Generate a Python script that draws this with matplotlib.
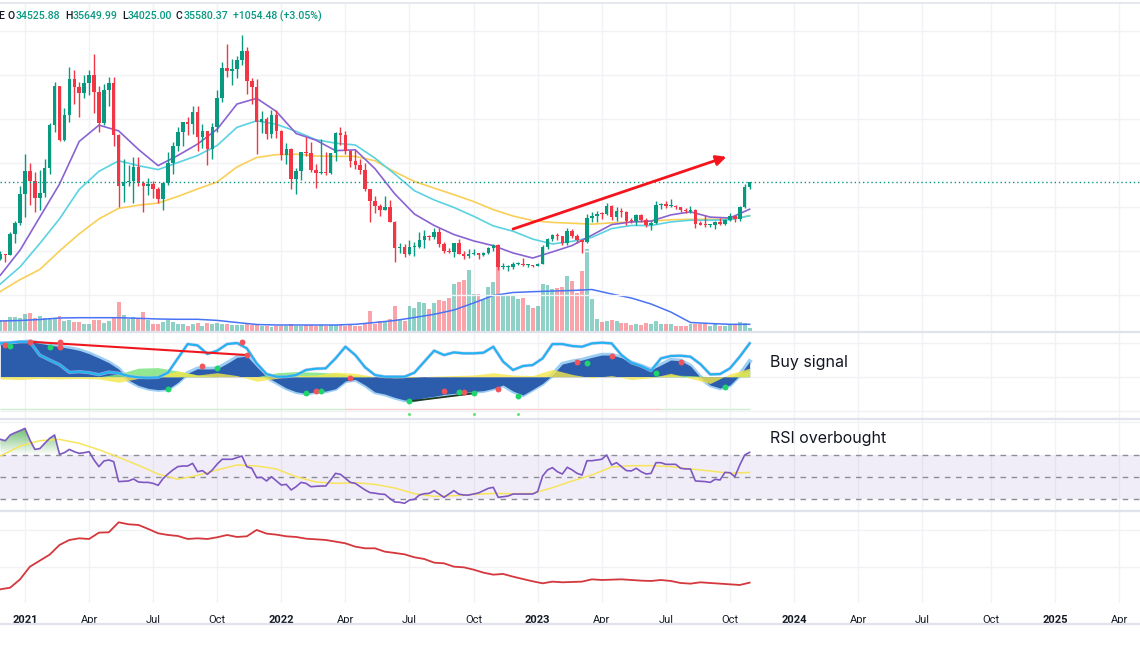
import matplotlib
matplotlib.use('Agg')
import matplotlib.pyplot as plt
import matplotlib.dates as mdates
import matplotlib.path as mpath
from matplotlib.colors import LinearSegmentedColormap
import numpy as np
import pandas as pd

plt.rcParams['font.family'] = ['Inter', 'DejaVu Sans']

W, H = 1140, 653
TEAL = '#089981'
RED = '#F23645'
GRID = '#F0F2F6'
SEP = '#E0E3EB'
TEXT = '#131722'

# ---- weekly BTC/USD candles (Mon open) ----
weeks = pd.date_range('2020-11-30', '2023-10-30', freq='W-MON')
first_open = 18180
closes = [19360, 19170, 23860, 26270, 33000, 38200, 35800, 32100, 33100, 38800,
          48600, 57400, 45200, 50900, 59000, 57350, 55800, 58100, 60000, 56200,
          49100, 56600, 58100, 46400, 34700, 35700, 35800, 39100, 35500, 34700,
          35300, 34200, 31800, 35400, 39900, 43800, 47100, 49300, 48900, 51700,
          46000, 47200, 43200, 48200, 54700, 61500, 60900, 61300, 63300, 65500,
          58600, 57300, 49400, 50100, 46700, 50800, 47300, 41900, 43100, 36300,
          38200, 42400, 42200, 38400, 37700, 38000, 37800, 42200, 46800, 46400,
          42800, 40400, 39500, 38500, 34000, 31300, 30300, 29400, 29900, 26600,
          20600, 21000, 19300, 20800, 20800, 22600, 23300, 23200, 24300, 21500,
          20000, 19800, 21800, 19400, 18800, 19300, 19400, 19200, 19600, 20600,
          21300, 16300, 16300, 16400, 17100, 17100, 16800, 16800, 16600, 17100,
          20900, 22700, 23700, 23300, 21800, 24600, 23500, 22400, 22100, 27600,
          28000, 28450, 28300, 30300, 27800, 29200, 28900, 26900, 26800, 28100,
          27100, 25900, 26300, 30500, 30600, 30200, 30300, 29900, 29300, 29000,
          29400, 26100, 26000, 25800, 25800, 26500, 26200, 27000, 27900, 27200,
          30000, 34525.88, 35580.37]
highs = [19920, 19420, 24300, 26900, 34800, 41950, 40100, 37850, 38500, 40950,
         49000, 58350, 57500, 52600, 61800, 61200, 58400, 60100, 61200, 64850,
         57500, 58000, 59500, 59600, 46600, 40800, 39500, 41300, 41300, 36000,
         36600, 35900, 34600, 35500, 42600, 44800, 48100, 49400, 50500, 52900,
         52900, 48800, 47300, 49200, 56600, 62900, 67000, 63700, 64300, 69000,
         66400, 59300, 59100, 51900, 50500, 52100, 52100, 47600, 44500, 43500,
         38900, 42600, 45900, 44800, 39800, 45400, 42600, 42300, 47000, 48200,
         47200, 42900, 42900, 40800, 40000, 34200, 32500, 30700, 32400, 31700,
         26800, 21900, 21500, 22500, 22000, 24300, 24700, 23600, 25200, 25200,
         22000, 20600, 21900, 22800, 19900, 20400, 20500, 19600, 19700, 21000,
         21500, 21500, 17200, 16800, 17400, 17400, 18400, 17000, 16900, 17200,
         21300, 23000, 23800, 24200, 23400, 25200, 25100, 23900, 22600, 28500,
         28900, 29200, 28800, 31000, 30500, 30000, 29800, 29000, 27600, 28300,
         28400, 27400, 26800, 31400, 31000, 31400, 31800, 30400, 30000, 29700,
         30200, 29600, 26800, 28100, 26100, 26900, 27500, 27300, 28600, 28000,
         30300, 35200, 35649.99]
lows = [18000, 17600, 19000, 21900, 25900, 27700, 30400, 28900, 29300, 32300,
        37400, 47000, 44900, 45000, 49300, 53300, 50400, 54700, 55400, 51300,
        47100, 48700, 53000, 43900, 30000, 31200, 34800, 31000, 34800, 28800,
        32700, 32100, 31000, 29300, 35000, 37500, 42800, 43900, 46300, 46600,
        42800, 43400, 39600, 40800, 47000, 53900, 59600, 57800, 59400, 62300,
        55600, 53500, 42000, 46800, 45500, 45600, 45700, 40600, 39700, 34000,
        32900, 36200, 41700, 38000, 34300, 37500, 37200, 37600, 40500, 44100,
        42100, 39200, 38600, 37600, 33700, 26700, 28700, 28000, 29300, 26500,
        17600, 19600, 18600, 19000, 18900, 20700, 20700, 22400, 22700, 20800,
        19600, 19600, 18600, 19300, 18200, 18500, 19200, 18200, 18900, 19300,
        20000, 15600, 15800, 15500, 16000, 16800, 16500, 16300, 16300, 16500,
        17100, 20400, 22300, 22500, 21400, 21400, 22900, 21900, 19600, 21900,
        26600, 26500, 27200, 28200, 27100, 26900, 27700, 25800, 26400, 25900,
        26600, 25400, 24800, 26200, 29500, 29700, 29900, 29600, 28900, 28600,
        28700, 25200, 25800, 25400, 25400, 24900, 26000, 26000, 26900, 26600,
        26900, 29700, 34025.00]
volume_k = [11, 10.7, 14.3, 14.3, 13.3, 17.3, 18.3, 12.7, 15, 12.7,
            13.3, 11.7, 15, 10, 10.7, 9.3, 9, 7.3, 7.3, 11,
            11, 7.7, 10, 14.3, 29.3, 16, 11.7, 14, 11.7, 19,
            10.7, 7.3, 6.7, 9.3, 10.7, 9, 7.3, 7.3, 5, 6.7,
            8, 5, 8, 6.7, 8.3, 7.3, 6.7, 5.7, 5.7, 5.7,
            6.7, 5.7, 5.7, 5, 5, 4, 5, 4.7, 5, 6.7,
            5, 5, 5.7, 5.7, 5, 5.7, 5, 5.7, 5.7, 6,
            5, 6.7, 5, 5, 7.3, 20, 7.3, 10, 10, 11.7,
            25, 12.3, 10, 25, 23.3, 29.3, 28.3, 21.7, 28.3, 31,
            30, 33.3, 47.3, 49, 51, 60.7, 37.3, 36.7, 31.7, 44.3,
            49, 85, 36, 35, 35.7, 31.7, 33.3, 25.7, 23.3, 25,
            47.3, 46, 42.3, 43.3, 44, 55, 50, 38.3, 60, 81.7,
            31.7, 12.3, 9, 10, 10.7, 10, 8.3, 8.3, 5.7, 6.7,
            5.7, 8.3, 6.7, 9.7, 6.7, 6.7, 6.7, 5, 5, 5,
            6.7, 6.7, 6.7, 6.7, 5, 6.7, 5, 5, 6.7, 6.7,
            9, 8.3, 3.3]

# moving averages, read every 4th week (thousands USD)
ma_purple_k = [14.5, 20.2, 27.7, 35.2, 44.9, 48.6, 47.3, 43.1, 39.4, 41.7, 44.3, 47.7, 53.4,
               54.7, 51.7, 46.7, 45.2, 42.8, 43.0, 38.7, 33.0, 28.4, 25.8, 23.75, 22.3, 21.2,
               19.55, 18.4, 19.8, 21.25, 23.6, 26.0, 26.6, 26.8, 28.2, 28.9, 27.7, 27.5, 29.5]
ma_cyan_k = [12.5, 16.4, 21.7, 27.3, 34.0, 38.1, 40.5, 39.4, 38.5, 40.1, 41.7, 44.0, 48.1,
             49.6, 48.8, 47.2, 45.3, 44.5, 44.1, 41.1, 37.5, 33.7, 31.6, 29.9, 27.9, 25.7,
             24.5, 22.7, 21.6, 22.2, 23.1, 25.1, 25.8, 25.8, 26.6, 27.0, 27.0, 27.1, 28.0]
ma_yellow_k = [10.8, 13.5, 15.8, 20.0, 23.9, 27.3, 29.7, 30.4, 30.9, 32.4, 34.1, 35.7, 39.1,
               41.25, 41.9, 42.0, 41.6, 41.5, 41.5, 40.5, 38.0, 35.8, 34.3, 32.8, 31.25, 29.4,
               27.95, 26.9, 26.5, 26.3, 26.1, 26.4, 26.6, 26.8, 27.1, 27.2, 27.2, 27.3, 28.0]
vol_ma_k = [10, 10.5, 11.5, 13, 13.3, 13.3, 13.3, 12.7, 12, 11.7, 11.7, 10.6, 8.5,
            6.5, 6, 6, 6, 6, 6.7, 8.5, 10.5, 13.5, 16.7, 21, 28, 35.5,
            38.5, 39.3, 40, 40.5, 41.5, 37, 33, 27, 19, 8.5, 7.5, 6.7, 6.7]

# wave oscillator, read every 2nd week
wave = [58.8, 58.8, 60.6, 61.7, 58.8, 55.9, 52.9, 50, 46.5, 40.6, 32.9, 24.7, 13.5,
        -5.9, -15.3, -20.6, -22.9, -21.8, -10, 5.9, 14.1, 13.5, 14.1, 23.5, 34.1, 36.5,
        17.6, 0, -10, -20, -26.5, -29.4, -26.5, -25.3, -21.2, -7.6, -4.7, -14.7, -27,
        -30.6, -36.5, -41.2, -41.2, -37, -34.7, -31.2, -29.4, -28.2, -25.9, -24.7, -20.6,
        -14.7, -25.3, -32.3, -22.3, -11.8, 2.9, 22.3, 26.5, 29.4, 34.1, 38.2, 38.2,
        33.5, 24.7, 18.8, 11.8, 20.6, 29.4, 28.2, 18.8, -1.2, -14.7, -20, -14.7, 2.9, 27]
wave_fast = [58.8, 60, 61.7, 61.7, 38, 29.4, 21.2, 7.6, 8.8, 7.1, 3.5, 8.2, 5.9,
             1.2, -1.2, -1.8, -1.2, 7.1, 32.3, 57.6, 55.3, 40, 45.9, 57.6, 59.4, 50,
             23.5, 4.7, 0, 0, 2.9, 11.8, 14.1, 14.7, 32.3, 52.9, 38.2, 16.5, 2.9,
             0, 0, 0, 7.1, 26.5, 45.9, 38.2, 42.9, 41.2, 41.2, 42.3, 52.9,
             26.5, 11.8, 18.8, 20.6, 32.3, 57.6, 57.6, 54.1, 52.9, 58.8, 60, 58.8,
             38.2, 24.7, 18.8, 10.6, 32.3, 36.5, 37, 35.3, 22.3, 4.1, 4.7, 14.7, 35.3, 58.8]
# money flow bands, every 4th week
flow_yellow = [-4, -5, -3, -4, -3, -4, -10, -3, 2, 10, 3, 7, 2, -8, -3, 2, 3, 8, 6, 0,
               -2, -1, 1, 2, 3, 7, 3, 2, 13, 4, -2, 2, -5, -2, 6, -3, -12, 5, 15]
flow_green = [0, 0, 0, 0, 0, 0, 5, 15, 16, 10, 3, 0, 0, 0, 7, 9, 8, 6, 2, 0,
              0, 0, 0, 0, 0, 0, 0, 0, 0, 0, 0, 0, 0, 0, 3, 2, 0, 0, 12]
sell_dot_week = [1, 6, 12, 12, 41, 49, 50, 64, 71, 90, 94, 101, 117, 124, 138]
sell_dot_val = [55.9, 61.7, 60.6, 52.9, 18.8, 61.7, 38.2, -25.3, -2.9, -25.3, -27.6, -21.8, 25.3, 37, 26.5]
buy_dot_week = [2, 10, 34, 44, 62, 65, 83, 93, 96, 105, 119, 133, 147]
buy_dot_val = [54.1, 51.7, -22.3, 14.7, -28.2, -25.3, -43.5, -27.6, -29.4, -34.1, 23.5, 7.1, -18.8]
signal_week = [83, 96, 105]
signal_val = -66
bear_div = ([6, 50], [61.7, 38.2])
bull_div = ([83, 96], [-43.5, -29.4])

# RSI weekly, and its moving average every 4th week
rsi = [83.9, 82.7, 87.9, 90, 91.8, 93.9, 83.3, 74.8, 75.5, 80.3,
       84.8, 87.9, 70.3, 71.8, 74.8, 72.7, 71.2, 71.8, 72.7, 65.2,
       59.1, 64.2, 65.2, 63.6, 45.5, 45.8, 46.1, 47.9, 45.2, 44.8,
       44.8, 43.9, 42.1, 48.2, 52.4, 56.1, 59.1, 59.7, 59.7, 62.1,
       54.5, 55.5, 52.1, 56.1, 61.5, 65.8, 65.8, 65.8, 67.3, 68.8,
       59.1, 57.6, 49.1, 49.4, 46.1, 50, 46.1, 42.4, 43, 37.9,
       40.9, 44.8, 43.9, 40.9, 41.2, 41.5, 41.5, 47, 53, 52.1,
       48.5, 44.8, 43.9, 40.9, 37.9, 35.5, 35, 34.2, 33.9, 30.3,
       27, 26.7, 25.8, 28.8, 29.4, 33.3, 34.5, 34.8, 37.3, 34.2,
       31.2, 34.2, 37.3, 34.2, 33.3, 33.3, 34.2, 35.2, 37.3, 39.4,
       40.3, 31.2, 31.8, 32.4, 34.2, 34.2, 34.2, 34.2, 34.2, 36.4,
       50.6, 56.1, 58.2, 54.5, 52.4, 58.5, 56.1, 53, 51.5, 64.5,
       64.5, 65.2, 65.8, 69.7, 60.6, 62.7, 59.1, 55.5, 55.2, 57.6,
       54.5, 52.4, 53, 62.7, 62.7, 61.2, 61.2, 61.2, 57.6, 57,
       57, 46.1, 45.8, 45.5, 44.8, 47.6, 47, 53.9, 53.6, 50,
       60.6, 69.7, 72.1]
rsi_ma = [68.8, 77.9, 82.7, 83.9, 80.3, 74.5, 67.6, 60.3, 52.4, 47.6, 51.2, 56.1, 60.6,
          59.7, 57, 50, 45.2, 43.9, 44.5, 43, 39.7, 34.5, 32.1, 32.7, 33.9, 34.8,
          34.5, 34.8, 40, 46.1, 51.5, 58.8, 60, 60, 59.1, 57, 55.2, 53, 53.9]

# bottom indicator, every 2nd week
lower_line = [38.4, 42.9, 65.6, 100.1, 116.5, 132.8, 159.2, 172.8, 177.3, 175.5,
              192.8, 193.7, 221, 215.5, 213.7, 202.8, 191, 186.4, 183.7, 175.5,
              177.3, 175.5, 180.1, 186.4, 181, 182.8, 200.1, 190.1, 187.3, 182.8,
              181, 176.4, 174.6, 172.8, 168.3, 163.7, 154.6, 150.1, 150.1, 141,
              137.4, 133.7, 125.6, 121, 111, 109.2, 100.1, 98.3, 92, 83.8,
              78.3, 80.2, 72.9, 66.5, 60.2, 54.7, 59.3, 57.5, 58.4, 59.3,
              65.6, 63.8, 64.7, 65.6, 63.8, 62, 61.1, 63.8, 61.1, 55.6,
              53.8, 57.5, 55.6, 53.8, 52, 50.2, 56.5]

# trend arrow drawn on the price pane
arrow_from = ('2022-11-28', 25000)
arrow_to = ('2023-09-27', 41400)

# ------------------------------------------------------------------
xs = mdates.date2num(weeks)
x_left = mdates.date2num(pd.Timestamp('2021-01-04')) - 35.5
x_right = x_left + W / 0.70421

quarters = pd.date_range('2021-01-01', '2025-04-01', freq='QS')
tick_dates = [q + pd.Timedelta(days=(7 - q.weekday()) % 7) for q in quarters]
tick_x = mdates.date2num(pd.DatetimeIndex(tick_dates))
tick_labels = [str(q.year) if q.month == 1 else q.strftime('%b') for q in quarters]

fig = plt.figure(figsize=(W / 100, H / 100), dpi=100)


def pane(top, bottom):
    a = fig.add_axes([0, 1 - bottom / H, 1, (bottom - top) / H])
    for s in a.spines.values():
        s.set_visible(False)
    a.set_xlim(x_left, x_right)
    a.tick_params(left=False, labelleft=False, bottom=False, labelbottom=False)
    for t in tick_x:
        a.axvline(t, color=GRID, lw=1, zorder=0)
    return a


# ---- price pane ----
ax_v = pane(4, 331)
ax_p = fig.add_axes(ax_v.get_position(), sharex=ax_v)
ax_p.patch.set_visible(False)
for s in ax_p.spines.values():
    s.set_visible(False)
ax_p.tick_params(left=False, labelleft=False, bottom=False, labelbottom=False)

o = np.array([first_open] + closes[:-1])
c = np.array(closes)
up = c >= o
ax_v.bar(xs, volume_k, width=5.6, color=np.where(up, TEAL, RED), alpha=0.45, lw=0)
ax_v.plot(xs[::4], vol_ma_k, color='#4A72F5', lw=1.1)
ax_v.set_ylim(0, 327)

ax_p.set_ylim(1818, 76136)
for lvl in range(10000, 80000, 10000):
    ax_p.axhline(lvl, color=GRID, lw=1, zorder=0)
ax_p.plot(xs[::4], np.array(ma_yellow_k) * 1000, color='#F9CF57', lw=1.2, zorder=2)
ax_p.plot(xs[::4], np.array(ma_cyan_k) * 1000, color='#5AD2E2', lw=1.2, zorder=2)
ax_p.plot(xs[::4], np.array(ma_purple_k) * 1000, color='#8A63D2', lw=1.2, zorder=2)
cols = np.where(up, TEAL, RED)
ax_p.vlines(xs, lows, highs, colors=cols, lw=1, zorder=3)
body = np.maximum(np.abs(c - o), 250)
ax_p.bar(xs, body, bottom=np.minimum(o, c), width=5.0, color=cols, lw=0, zorder=4)
ax_p.axhline(closes[-1], color=TEAL, lw=1, ls=(0, (1, 2)), zorder=5)
ax_p.annotate('', xy=(mdates.date2num(pd.Timestamp(arrow_to[0])), arrow_to[1]),
              xytext=(mdates.date2num(pd.Timestamp(arrow_from[0])), arrow_from[1]),
              arrowprops=dict(arrowstyle='-|>', color='#F5141C', lw=2, mutation_scale=15,
                              shrinkA=0, shrinkB=0), zorder=6)
ax_p.set_xlim(x_left, x_right)

# ---- wave oscillator pane ----
ax_o = pane(333, 418)
ax_o.set_ylim(-72.9, 77.1)
for lvl in (60, 0, -60):
    ax_o.axhline(lvl, color=GRID, lw=1, zorder=0)
ox = xs[::2]
fx = xs[::4]
ax_o.hlines(-57.6, xs[0], xs[70], color='#CDEFD0', lw=1)
ax_o.hlines(-57.6, xs[70], xs[134], color='#F9CDD0', lw=1)
ax_o.hlines(-57.6, xs[134], xs[-1], color='#CDEFD0', lw=1)
ax_o.plot(ox, wave, color='#9CCDF3', lw=3.2, zorder=2)
ax_o.fill_between(ox, 0, wave, color='#2C5CAC', lw=0, zorder=3)
ax_o.fill_between(fx, 0, flow_green, color='#7FE37F', alpha=0.85, lw=0, zorder=4)
ax_o.fill_between(fx, 0, flow_yellow, color='#F4E64A', alpha=0.8, lw=0, zorder=4)
ax_o.plot(ox, wave_fast, color='#C9B8EA', lw=2.4, zorder=5, alpha=0.7)
ax_o.plot(ox, wave_fast, color='#22B3F0', lw=1.6, zorder=6)
ax_o.plot(xs[bear_div[0]], bear_div[1], color='#F0161E', lw=1.5, zorder=7)
ax_o.plot(xs[bull_div[0]], bull_div[1], color='#1E3B1E', lw=1.3, zorder=7)
ax_o.scatter(xs[sell_dot_week], sell_dot_val, s=18, color='#F2545B', zorder=8, lw=0)
ax_o.scatter(xs[buy_dot_week], buy_dot_val, s=18, color='#1FD46A', zorder=8, lw=0)
ax_o.scatter(xs[signal_week], [signal_val] * len(signal_week), s=5, color='#6EE27A', zorder=8, lw=0)

# ---- RSI pane ----
ax_r = pane(420, 510)
ax_r.set_ylim(19.7, 101.5)
ax_r.axhline(100, color=GRID, lw=1, zorder=0)
ax_r.axhspan(30, 70, color='#7E57C2', alpha=0.1, lw=0)
for lvl in (70, 50, 30):
    ax_r.axhline(lvl, color='#8A8D96', lw=1, ls=(0, (4, 4)))
rsi_a = np.array(rsi)
poly = ax_r.fill_between(xs, 70, rsi_a, where=rsi_a > 70, interpolate=True,
                         facecolor='none', lw=0)
clip = mpath.Path.make_compound_path(*poly.get_paths())
cmap = LinearSegmentedColormap.from_list('ob', [(0.30, 0.69, 0.31, 0.0), (0.30, 0.69, 0.31, 0.85)])
grad = np.linspace(0, 1, 200).reshape(-1, 1)
im = ax_r.imshow(grad, extent=[xs[0], xs[-1], 70, 95], origin='lower', aspect='auto',
                 cmap=cmap, zorder=1)
im.set_clip_path(clip, ax_r.transData)
ax_r.plot(xs[::4], rsi_ma, color='#F7E45C', lw=1.1, zorder=2)
ax_r.plot(xs, rsi, color='#7E57C2', lw=1.2, zorder=3)
ax_r.set_xlim(x_left, x_right)
ax_r.set_ylim(19.7, 101.5)

# ---- bottom pane ----
ax_b = pane(512, 603)
ax_b.set_ylim(1.1, 249)
for lvl in (100, 200):
    ax_b.axhline(lvl, color=GRID, lw=1, zorder=0)
ax_b.plot(xs[::2], lower_line, color='#D4373C', lw=1.3)
ax_b.set_xticks(tick_x)
ax_b.set_xticklabels(tick_labels)
ax_b.tick_params(axis='x', bottom=False, labelbottom=True, pad=5, labelsize=8,
                 labelcolor=TEXT)
for lab in ax_b.get_xticklabels():
    lab.set_family(['Roboto', 'DejaVu Sans'])
    if lab.get_text().isdigit():
        lab.set_fontweight('bold')

# ---- separators ----
for y in (3, 332, 419, 511, 624):
    fig.add_artist(plt.Line2D([0, 1], [1 - y / H, 1 - y / H], color=SEP,
                              lw=1.6 if y != 3 else 1.2, transform=fig.transFigure))

# ---- texts ----
fig.text(770 / W, 1 - 363 / H, 'Buy signal', fontsize=11.5, color=TEXT, va='center')
fig.text(770 / W, 1 - 438 / H, 'RSI overbought', fontsize=11.5, color=TEXT, va='center')

renderer = fig.canvas.get_renderer()
header = [(-2, '', 'E'), (8, 'O', '34525.88'), (65, 'H', '35649.99'), (122, 'L', '34025.00'),
          (176, 'C', '35580.37'), (233, '', '+1054.48 (+3.05%)')]
for x0, letter, value in header:
    x = x0
    if letter:
        t = fig.text(x / W, 1 - 16 / H, letter, color=TEXT, fontsize=7.6, va='center',
                     family=['Roboto', 'DejaVu Sans'], fontweight='medium')
        x += t.get_window_extent(renderer).width + 0.5
    fig.text(x / W, 1 - 16 / H, value, color=TEAL if letter or value[0] == '+' else TEXT,
             fontsize=7.6, va='center', family=['Roboto', 'DejaVu Sans'], fontweight='medium')

fig.savefig('out.png', dpi=100)
